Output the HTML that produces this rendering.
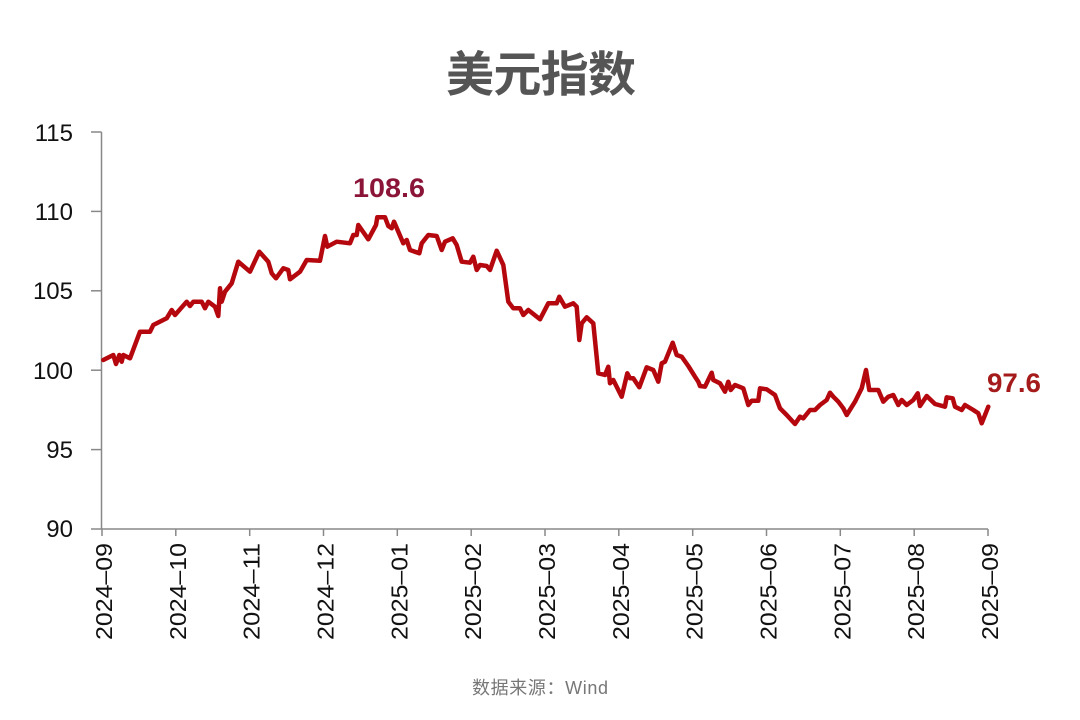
<!DOCTYPE html>
<html><head><meta charset="utf-8"><style>
html,body{margin:0;padding:0;background:#fff;}
svg{display:block;}
</style></head><body>
<svg width="1080" height="720" xmlns="http://www.w3.org/2000/svg">
<text x="541" y="91" text-anchor="middle" font-family="'Liberation Sans','Noto Sans CJK SC',sans-serif" font-size="48" font-weight="bold" fill="#555" textLength="190">美元指数</text>
<g stroke="#888" stroke-width="1.5" fill="none">
<line x1="101.5" y1="132" x2="101.5" y2="529"/>
<line x1="101.5" y1="529" x2="988" y2="529"/>
<line x1="91" y1="132" x2="101.5" y2="132"/>
<line x1="91" y1="211.4" x2="101.5" y2="211.4"/>
<line x1="91" y1="290.8" x2="101.5" y2="290.8"/>
<line x1="91" y1="370.2" x2="101.5" y2="370.2"/>
<line x1="91" y1="449.6" x2="101.5" y2="449.6"/>
<line x1="91" y1="529" x2="101.5" y2="529"/>
</g>
<g font-family="'Liberation Sans',sans-serif" font-size="24" fill="#111" text-anchor="end">
<text x="73" y="141">115</text>
<text x="73" y="220">110</text>
<text x="73" y="299">105</text>
<text x="73" y="379">100</text>
<text x="73" y="458">95</text>
<text x="73" y="537">90</text>
</g>
<g stroke="#888" stroke-width="1.5">
<line x1="102" y1="529" x2="102" y2="536"/><line x1="175.8" y1="529" x2="175.8" y2="536"/><line x1="249.7" y1="529" x2="249.7" y2="536"/><line x1="323.5" y1="529" x2="323.5" y2="536"/><line x1="397.3" y1="529" x2="397.3" y2="536"/><line x1="471.2" y1="529" x2="471.2" y2="536"/><line x1="545" y1="529" x2="545" y2="536"/><line x1="618.8" y1="529" x2="618.8" y2="536"/><line x1="692.7" y1="529" x2="692.7" y2="536"/><line x1="766.5" y1="529" x2="766.5" y2="536"/><line x1="840.3" y1="529" x2="840.3" y2="536"/><line x1="914.2" y1="529" x2="914.2" y2="536"/><line x1="988" y1="529" x2="988" y2="536"/>
</g>
<g font-family="'Liberation Sans',sans-serif" font-size="23" fill="#111" text-anchor="end">
<text transform="translate(112,543) rotate(-90)" textLength="97" lengthAdjust="spacingAndGlyphs">2024–09</text>
<text transform="translate(185.8,543) rotate(-90)" textLength="97" lengthAdjust="spacingAndGlyphs">2024–10</text>
<text transform="translate(259.7,543) rotate(-90)" textLength="97" lengthAdjust="spacingAndGlyphs">2024–11</text>
<text transform="translate(333.5,543) rotate(-90)" textLength="97" lengthAdjust="spacingAndGlyphs">2024–12</text>
<text transform="translate(407.3,543) rotate(-90)" textLength="97" lengthAdjust="spacingAndGlyphs">2025–01</text>
<text transform="translate(481.2,543) rotate(-90)" textLength="97" lengthAdjust="spacingAndGlyphs">2025–02</text>
<text transform="translate(555,543) rotate(-90)" textLength="97" lengthAdjust="spacingAndGlyphs">2025–03</text>
<text transform="translate(628.8,543) rotate(-90)" textLength="97" lengthAdjust="spacingAndGlyphs">2025–04</text>
<text transform="translate(702.7,543) rotate(-90)" textLength="97" lengthAdjust="spacingAndGlyphs">2025–05</text>
<text transform="translate(776.5,543) rotate(-90)" textLength="97" lengthAdjust="spacingAndGlyphs">2025–06</text>
<text transform="translate(850.3,543) rotate(-90)" textLength="97" lengthAdjust="spacingAndGlyphs">2025–07</text>
<text transform="translate(924.2,543) rotate(-90)" textLength="97" lengthAdjust="spacingAndGlyphs">2025–08</text>
<text transform="translate(998,543) rotate(-90)" textLength="97" lengthAdjust="spacingAndGlyphs">2025–09</text>
</g>
<polyline fill="none" stroke="#b5080e" stroke-width="4.5" stroke-linejoin="round" stroke-linecap="round" points="
103.3,360 113.3,355 116,364 119.3,355 121.7,361.7 123.3,355 130,358.3 140,331.7 150,331.7 153.3,325 166.7,318.3 171.7,310 175,315 186.7,301.7 190,306 193.3,301.7 201.7,301.7 205,308.3 208.3,301.7 215,306.7 218.3,316 220,288.3 221.7,301.7 225,291.7 231.7,283.3 238.3,261.7 250,271.7 259.3,251.7 268.3,261.7 271.7,273.3 276,278.3 283.3,268.3 288.3,270 290,279.3 300,271.7 306.7,260 320,260.7 325,236 327.3,246.7 336.7,241.7 350,243.3 353.3,235 356.7,235 358.3,225 368.3,239.3 376,225 377.3,217.3 385,217.3 388.3,226 391.7,228.3 394,221.7 403.3,243.3 406.7,240 410,250 419.3,253.3 421.7,243.3 428.3,235 436.7,236 441.7,250 445,241.7 452.7,238.3 456.7,245 461.7,261.7 470,262.7 473.3,256.7 476.7,270 480,265 486.7,266 490,270 496.7,250.7 503.3,265 508.3,301.7 513.3,308.3 520,308.3 523.3,315 528.3,310 540,319.3 548.3,303.3 556.7,303.3 559.3,296.7 565,306.7 573.3,303.3 576.7,306.7 579.3,340 581.7,323.3 586.7,317.3 593.3,323.3 598.3,373.3 605,375 608.3,366.7 610,383.3 613.3,380 621.7,396.7 627.3,373.3 630,378.3 633.3,378.3 639.3,387.3 646.7,367.3 653.3,370 658.3,381.7 661.7,363.3 665,361.7 672.7,342.7 676.7,355 681.7,356.7 688.3,366 695,376.7 698.3,381.7 700,386 705,386.7 711.7,372.7 713.3,380 720,383.3 725,391.7 728.3,381.7 730.7,390 735,385 743.3,388.3 748.3,405 751.7,400.7 758.3,400.7 760,388.3 766.7,389.3 775,395 780,408.3 786.7,415 795,424 800,416.7 803.3,418.3 810,410 815,410 820,405 826.7,400 830,392.7 833.3,396.7 838.3,401.7 843.3,408.3 846.7,415 855,401.7 861.7,388.3 866,370 869.3,390 878.3,390 883.3,401.7 888.3,396.7 893.3,395 898.3,405 901.7,400 906.7,405 913.3,400 917.7,393.3 920,406 926.7,396 935,404 945,406.7 946.7,397.3 952.7,398.3 955,406.7 961.7,410 965,405 973.3,410 978.3,413.3 981.7,423.3 988.3,406.7"/>
<text x="353" y="197" font-family="'Liberation Sans',sans-serif" font-size="27" font-weight="bold" fill="#8b1538" textLength="72" lengthAdjust="spacingAndGlyphs">108.6</text>
<text x="987" y="392" font-family="'Liberation Sans',sans-serif" font-size="27" font-weight="bold" fill="#a51b1b" textLength="54" lengthAdjust="spacingAndGlyphs">97.6</text>
<text x="540" y="694" text-anchor="middle" font-family="'Liberation Sans','Noto Sans CJK SC',sans-serif" font-size="18" fill="#777" textLength="136">数据来源：Wind</text>
</svg>
</body></html>
